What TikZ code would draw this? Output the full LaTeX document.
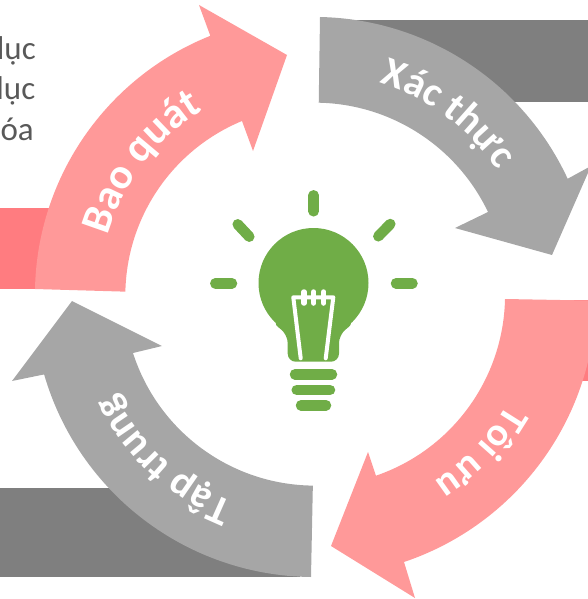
\documentclass[tikz,border=0pt]{standalone}
\usepackage{fontspec}
\setmainfont{Carlito}
\usetikzlibrary{calc,decorations.text}
\definecolor{arw_pink}{HTML}{FF9999}
\definecolor{arw_gray}{HTML}{A6A6A6}
\definecolor{bar_pink}{HTML}{FF7C80}
\definecolor{bar_gray}{HTML}{7F7F7F}
\definecolor{bulb_green}{HTML}{70AD47}
\definecolor{note_gray}{HTML}{595959}
\newcommand{\lblfont}[1]{\fontsize{#1}{#1}\selectfont\bfseries\color{white}}
\tikzset{
  x=1pt, y=1pt,
  arw_r/.style = {fill=arw_pink},
  arw_g/.style = {fill=arw_gray},
  bar_r/.style = {fill=bar_pink},
  bar_g/.style = {fill=bar_gray},
  ray/.style = {draw=bulb_green, line width=10.5pt, line cap=round},
  wire/.style = {draw=white, line width=4pt, line cap=round, line join=round},
  note/.style = {anchor=base east, inner sep=0pt, text=note_gray, font=\fontsize{33}{33}\selectfont},
  lbl/.style 2 args = {decorate, decoration={text along path, text align=center, text={|\lblfont{#1}|#2}}}
}

\begin{document}
\begin{tikzpicture}
	\useasboundingbox (0,0) rectangle (588,-599);
	\clip (0,0) rectangle (588,-599);
	\coordinate (ctr) at (314,-295);

	\node [note] (note_a) at (36,-60) {lục};
	\node [note] (note_b) at (35.5,-100) {lục};
	\node [note] (note_c) at (34,-140) {óa};

	\fill [bar_r] (0,-208) rectangle (60,-289);
	\fill [bar_g] (340,-20) rectangle (588,-102);
	\fill [bar_r] (520,-300) rectangle (588,-381);
	\fill [bar_g] (0,-488) rectangle (300,-577);

	\fill [arw_r] (35,-289) arc[start angle=178.8, end angle=111.8, radius=279]
		-- (199,-5) -- (287,-55) -- (253,-151) -- (242,-121)
		arc[start angle=112.5, end angle=178.8, radius=189] -- cycle;
	\fill [arw_g] (320,-17) arc[start angle=88.8, end angle=24.9, radius=279.5]
		-- (591,-166) -- (552,-255) -- (455,-228) -- (488,-212)
		arc[start angle=25.5, end angle=88.8, radius=192] -- cycle;
	\fill [arw_r] (505,-299) arc[start angle=-1.2, end angle=-71.1, radius=191]
		-- (368,-452) -- (331,-546) -- (415,-598) -- (404,-562)
		arc[start angle=-71.4, end angle=-1.2, radius=282] -- cycle;
	\fill [arw_g] (311,-577) arc[start angle=269.4, end angle=196.2, radius=281]
		-- (12,-381) -- (72,-301) -- (162,-346) -- (133,-353)
		arc[start angle=197.8, end angle=269.4, radius=191] -- cycle;

	\path [lbl={43}{Bao quát}] ($(ctr)+(182.5:215)$) arc[start angle=182.5, end angle=102.5, radius=215];
	\path [lbl={41}{Xác thực}] ($(ctr)+(93.5:222)$) arc[start angle=93.5, end angle=13.5, radius=222];
	\path [lbl={40}{Tôi ưu}] ($(ctr)+(-3.5:222)$) arc[start angle=-3.5, end angle=-83.5, radius=222];
	\path [lbl={41}{Tập trung}] ($(ctr)+(267.5:222)$) arc[start angle=267.5, end angle=187.5, radius=222];

	\fill [bulb_green] (313.5,-283) circle (55);
	\fill [bulb_green, rounded corners=8pt] (271.7,-321.7) -- (287.7,-335) -- (287.7,-361.7)
		-- (339,-361.7) -- (339,-335) -- (355,-321.7) -- cycle;
	\draw [ray] (313.7,-195.3) -- (313.7,-211.3);
	\draw [ray] (215.3,-283.3) -- (232,-283.3);
	\draw [ray] (396,-283.3) -- (412.5,-283.3);
	\draw [ray] (237.7,-224.3) -- (249.3,-236.7);
	\draw [ray] (378.3,-236.3) -- (390.3,-224);
	\draw [ray] (295,-374.3) -- (332,-374.3);
	\draw [ray] (296.7,-390) -- (330,-390);
	\draw [ray] (301,-405.3) -- (326,-405.3);

	\draw [wire] (300.7,-358.3) -- (293.3,-297.3) -- (333.3,-297.3) -- (325.7,-358.3);
	\foreach \xpos in {304,313.7,323.7}
		\draw [wire, line width=5.5pt] (\xpos,-292) -- (\xpos,-303);
\end{tikzpicture}
\end{document}
